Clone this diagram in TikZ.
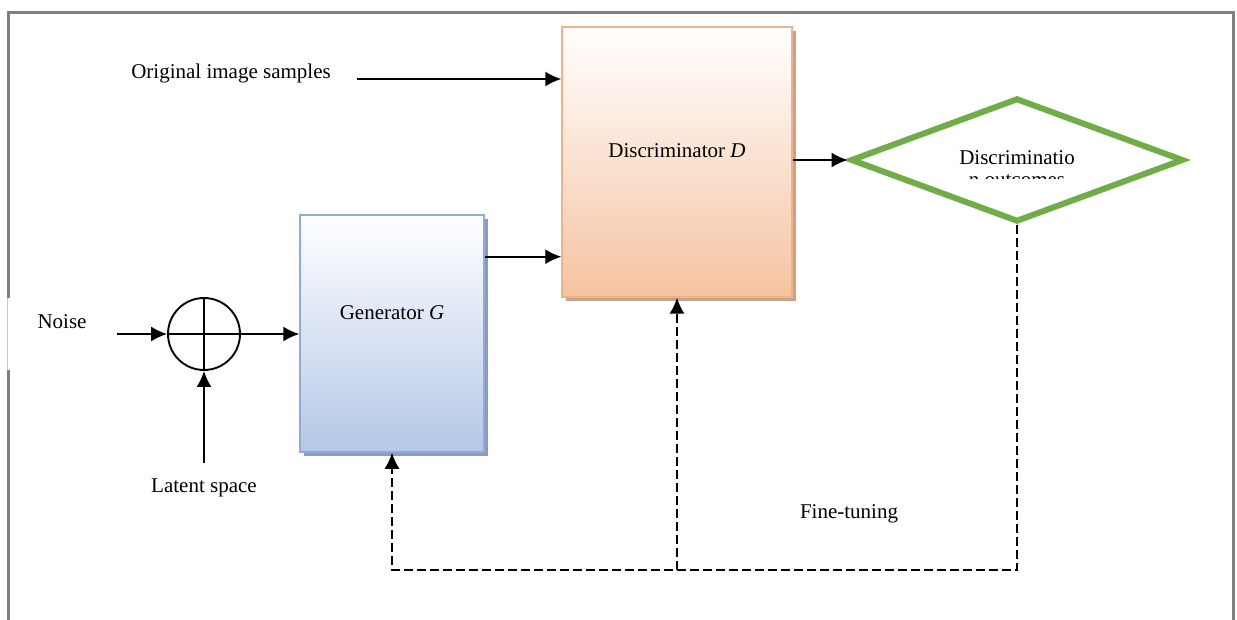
\documentclass[tikz,border=0pt]{standalone}
\usepackage{fontspec}
\setmainfont{Liberation Serif}
\usetikzlibrary{arrows.meta,shapes.geometric,positioning}
\definecolor{framegray}{HTML}{7F7F7F}
\definecolor{discline}{HTML}{F4B183}
\definecolor{discfill}{HTML}{F5C3A1}
\definecolor{discshade}{HTML}{C7A28D}
\definecolor{genline}{HTML}{8FAADC}
\definecolor{genfill}{HTML}{B4C7E7}
\definecolor{genshade}{HTML}{8D9BB5}
\definecolor{outgreen}{HTML}{70AD47}
\tikzset{
  blockbox/.style={rectangle,inner sep=0pt,line width=1.5pt},
  discbox/.style={blockbox,draw=discline,top color=white,bottom color=discfill,
    preaction={fill=discshade,transform canvas={xshift=4pt,yshift=-4pt}}},
  genbox/.style={blockbox,draw=genline,top color=white,bottom color=genfill,
    preaction={fill=genshade,transform canvas={xshift=4pt,yshift=-4pt}}},
  fine/.style={dash pattern=on 9pt off 4pt,line width=1.5pt}
}
\begin{document}
\begin{tikzpicture}[x=1pt,y=-1pt,line cap=butt,>={Latex[length=16pt,width=15pt]},
  line width=1.6pt,font=\fontsize{21}{22}\selectfont]
	\useasboundingbox (0,0) rectangle (1237,620);
	% frame
	\draw[framegray,line width=3pt] (8,620) -- (8,13) -- (1233,13) -- (1233,620);
	\fill[white] (6,298) rectangle (11,370);
	\draw[framegray!40,line width=1pt] (7,298) -- (7,370);
	% blocks
	\node[discbox,minimum width=230pt,minimum height=270pt] (disc) at (677,162) {};
	\node (disclab) at (677,151) {Discriminator \textit{D}};
	\node[genbox,minimum width=184pt,minimum height=237pt] (gen) at (392,333.5) {};
	\node (genlab) at (392,313) {Generator \textit{G}};
	\node[diamond,draw=outgreen,line width=6pt,inner sep=0pt,minimum width=333pt,minimum height=124pt] (outc) at (1017,160) {};
	\begin{scope}
		\clip (900,100) rectangle (1140,178.5);
		\node[align=center] (outclab) at (1017,169) {Discriminatio\\n outcomes};
	\end{scope}
	\node[circle,draw,line width=1.9pt,minimum size=72pt,inner sep=0pt] (sum) at (204,334) {};
	\draw[line width=1.9pt] (sum.north) -- (sum.south) (sum.west) -- (sum.east);
	% labels
	\node (orig) at (231,73) {Original image samples};
	\node (noise) at (62,322) {Noise};
	\node (latent) at (204,488) {Latent space};
	\node (tune) at (849,514) {Fine-tuning};
	% connectors
	\coordinate (origend) at (357,79);
	\coordinate (noisend) at (117,334);
	\coordinate (latend) at (204,463);
	\coordinate (fb) at (1017,570);
	\draw[->] (origend) -- (origend -| disc.west);
	\draw[->] (noisend) -- (sum.west);
	\draw[->] (latend) -- (sum.south);
	\draw[->] (sum.east) -- (sum.east -| gen.west);
	\draw[->] ([yshift=-42.5pt]gen.north east) -- ([yshift=-42.5pt]gen.north east -| disc.west);
	\draw[->] (disc.east |- outc.west) -- (outc.west);
	\draw[fine,->] (outc.south) |- (gen.south |- fb) -- (gen.south);
	\draw[fine,->] (disc.south |- fb) -- (disc.south);
\end{tikzpicture}
\end{document}
